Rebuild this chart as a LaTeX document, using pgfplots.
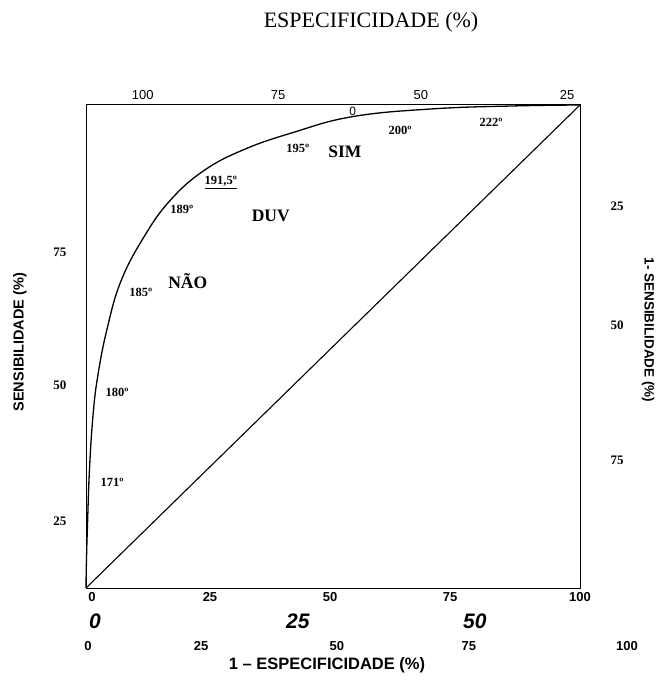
\documentclass[border=0pt]{standalone}
\usepackage{fontspec}
\setmainfont{Liberation Serif}
\newfontfamily\arial{Liberation Sans}
\usepackage{pgfplots}
\pgfplotsset{compat=1.18}

\newcommand{\fs}[1]{\fontsize{#1}{#1}\selectfont}

\begin{document}
\begin{tikzpicture}
\useasboundingbox (0,0) rectangle (657pt,680pt);
\begin{axis}[at={(86pt,92pt)}, anchor=south west,
  width=494pt, height=483pt, scale only axis,
  xmin=0, xmax=100, ymin=0, ymax=100, clip=false,
  axis line style={line width=1pt},
  major tick length=0pt, ytick=\empty,
  xtick={1.2,25.1,49.4,73.7,100}, xticklabels={0,25,50,75,100},
  xticklabel style={font=\arial\bfseries\fs{13}, yshift=-1pt},
  every node/.style={inner sep=1pt}]
  % curva ROC
  \addplot[line width=1.3pt, smooth, tension=0.7] coordinates {
    (0,0) (0.1,6) (0.3,13) (0.7,24.4) (1.4,35.5) (2.4,44)
    (4.3,53.8) (7.1,63.6) (11.8,72.8) (17.0,80.2) (23.7,86.3)
    (31.8,90.7) (41.9,94.3) (54.0,97.6) (70.2,99.2) (86.4,99.8) (100,100)
  };
  % diagonal
  \addplot[line width=1.1pt] coordinates {(0,0) (100,100)};

  % pontos de corte
  \begin{scope}[every node/.style={font=\bfseries\fs{12.5}}]
    \node at (axis cs:5.3,21.9) {171º};
    \node at (axis cs:6.3,40.4) {180º};
    \node at (axis cs:11.1,61.1) {185º};
    \node at (axis cs:19.4,78.3) {189º};
    \node at (axis cs:27.3,83.9) {\underline{191,5º}};
    \node at (axis cs:42.9,91.1) {195º};
    \node at (axis cs:63.6,94.8) {200º};
    \node at (axis cs:82.0,96.5) {222º};
  \end{scope}
  \node[font=\arial\fs{12}] at (axis cs:54.0,98.6) {0};
  \begin{scope}[every node/.style={font=\bfseries\fs{17.5}}]
    \node at (axis cs:52.4,90.3) {SIM};
    \node at (axis cs:37.4,77.0) {DUV};
    \node at (axis cs:20.6,63.6) {NÃO};
  \end{scope}

  % escala superior
  \node[font=\arial\fs{13}] at (axis cs:11.5,102.1) {100};
  \node[font=\arial\fs{13}] at (axis cs:38.9,102.1) {75};
  \node[font=\arial\fs{13}] at (axis cs:67.8,102.1) {50};
  \node[font=\arial\fs{13}] at (axis cs:97.4,102.1) {25};
  \node[font=\fs{22}] at (axis cs:57.7,117.2) {ESPECIFICIDADE (\%)};

  % escala inferior
  \node[font=\arial\bfseries\itshape\fs{21}] at (axis cs:1.8,-6.9) {0};
  \node[font=\arial\bfseries\itshape\fs{21}] at (axis cs:42.9,-6.9) {25};
  \node[font=\arial\bfseries\itshape\fs{21}] at (axis cs:78.7,-6.9) {50};
  \node[font=\arial\bfseries\fs{13}] at (axis cs:0.4,-12.1) {0};
  \node[font=\arial\bfseries\fs{13}] at (axis cs:23.3,-12.1) {25};
  \node[font=\arial\bfseries\fs{13}] at (axis cs:50.8,-12.1) {50};
  \node[font=\arial\bfseries\fs{13}] at (axis cs:77.5,-12.1) {75};
  \node[font=\arial\bfseries\fs{13}] at (axis cs:109.5,-12.1) {100};
  \node[font=\arial\bfseries\fs{16.5}] at (axis cs:48.8,-16.0) {1 – ESPECIFICIDADE (\%)};

  % escala esquerda
  \node[font=\bfseries\fs{13}] at (axis cs:-5.3,69.4) {75};
  \node[font=\bfseries\fs{13}] at (axis cs:-5.3,42.0) {50};
  \node[font=\bfseries\fs{13}] at (axis cs:-5.3,13.9) {25};
  \node[font=\arial\bfseries\fs{14.5}, rotate=90] at (axis cs:-13.4,50.9) {SENSIBILIDADE (\%)};

  % escala direita
  \node[font=\bfseries\fs{13}] at (axis cs:107.5,79.1) {25};
  \node[font=\bfseries\fs{13}] at (axis cs:107.5,54.5) {50};
  \node[font=\bfseries\fs{13}] at (axis cs:107.5,26.5) {75};
  \node[font=\arial\bfseries\fs{13.5}, rotate=-90] at (axis cs:113.8,53.4) {1- SENSIBILIDADE (\%)};
\end{axis}
\end{tikzpicture}
\end{document}
